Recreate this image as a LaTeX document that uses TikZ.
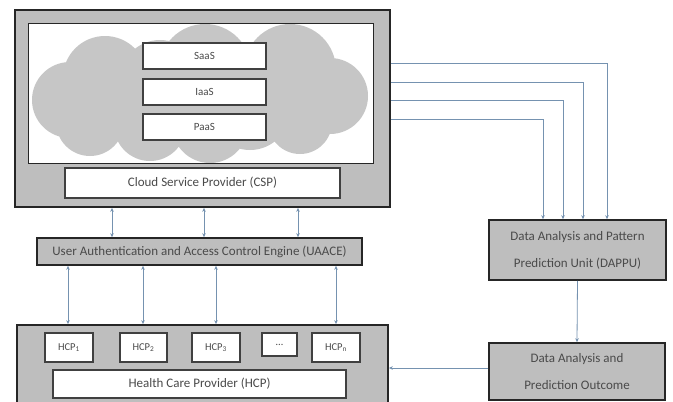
\documentclass[tikz,border=0pt]{standalone}
\usepackage{fontspec}
\setmainfont{Carlito}
\usetikzlibrary{arrows.meta}
\definecolor{boxgray}{HTML}{BEBEBE}
\definecolor{cloudgray}{HTML}{C6C6C6}
\definecolor{txt}{HTML}{4A4A4A}
\definecolor{arrc}{HTML}{7592B0}
\tikzset{
  outerbox/.style={draw=black!85, line width=1.8pt, fill=boxgray, inner sep=0pt},
  whitebox/.style={draw=black!75, line width=1.1pt, fill=white, inner sep=0pt, text=txt, font=\fontsize{13}{15}\selectfont},
  smallbox/.style={whitebox, font=\fontsize{10.5}{12}\selectfont},
  graybox/.style={draw=black!85, line width=1.6pt, fill=boxgray, inner sep=0pt, text=txt, align=center, font=\fontsize{13}{27}\selectfont},
  conn/.style={draw=arrc, line width=0.8pt, -{Stealth[length=4pt,width=3.5pt]}},
  dconn/.style={draw=arrc, line width=0.8pt, {Stealth[length=4pt,width=3.5pt]}-{Stealth[length=4pt,width=3.5pt]}}
}
\begin{document}
\begin{tikzpicture}[x=1pt,y=-1pt]
\useasboundingbox[fill=white] (0,0) rectangle (673,402);
% CSP
\node[outerbox, minimum width=375pt, minimum height=197pt] (csp) at (202.5,108.5) {};
\node[draw=black!85, line width=1pt, fill=white, minimum width=345pt, minimum height=140pt, inner sep=0pt] (inner) at (200.5,93) {};
% cloud
\begin{scope}
\clip (28.5,23.5) rectangle (372.5,162.5);
\fill[cloudgray] (105,78) circle (42) (70,100) circle (38) (90,122) circle (34)
  (150,125) circle (36) (205,70) circle (46) (210,125) circle (38)
  (290,70) circle (46) (330,96) circle (38) (300,122) circle (32) (250,110) circle (40)
  (160,80) circle (40);
\end{scope}
\node[whitebox, minimum width=123pt, minimum height=26pt, font=\fontsize{11}{13}\selectfont] (saas) at (204.5,56) {SaaS};
\node[whitebox, minimum width=123pt, minimum height=26pt, font=\fontsize{11}{13}\selectfont] (iaas) at (204.5,92) {IaaS};
\node[whitebox, minimum width=123pt, minimum height=26pt, font=\fontsize{11}{13}\selectfont] (paas) at (204.5,127) {PaaS};
\node[whitebox, minimum width=275pt, minimum height=30pt] (csplabel) at (202.5,183) {Cloud Service Provider (CSP)};
% UAACE
\node[graybox, minimum width=325pt, minimum height=27pt] (uaace) at (199.5,251.5) {User Authentication and Access Control Engine (UAACE)};
% HCP
\node[outerbox, minimum width=371pt, minimum height=85pt] (hcp) at (202.5,367.5) {};
\node[smallbox, minimum width=48pt, minimum height=29pt] (h1) at (69,347.5) {HCP\textsubscript{1}};
\node[smallbox, minimum width=47pt, minimum height=29pt] (h2) at (143.5,347.5) {HCP\textsubscript{2}};
\node[smallbox, minimum width=48pt, minimum height=29pt] (h3) at (216,347.5) {HCP\textsubscript{3}};
\node[smallbox, minimum width=35pt, minimum height=23pt] (hd) at (279.5,344.5) {\dots};
\node[smallbox, minimum width=48pt, minimum height=29pt] (hn) at (336,347.5) {HCP\textsubscript{n}};
\node[whitebox, minimum width=293pt, minimum height=28pt] (hcplabel) at (199.5,384) {Health Care Provider (HCP)};
% right boxes
\node[graybox, minimum width=177pt, minimum height=60pt] (dappu) at (577.5,250) {Data Analysis and Pattern\\Prediction Unit (DAPPU)};
\node[graybox, minimum width=176pt, minimum height=57pt] (dapo) at (577,371.5) {Data Analysis and\\Prediction Outcome};
% connectors CSP -> DAPPU
\coordinate (r1) at (607,63);
\coordinate (r2) at (583,82);
\coordinate (r3) at (563,100);
\coordinate (r4) at (543,119);
\foreach \r in {r1,r2,r3,r4}{
  \draw[conn] (csp.east |- \r) -| (dappu.north -| \r);
}
% CSP <-> UAACE
\foreach \xx in {112,204,298}{
  \coordinate (u\xx) at (\xx,0);
  \draw[dconn] (csp.south -| u\xx) -- (uaace.north -| u\xx);
}
% UAACE <-> HCP
\foreach \xx in {68,143,216,336}{
  \coordinate (v\xx) at (\xx,0);
  \draw[dconn] (uaace.south -| v\xx) -- (hcp.north -| v\xx);
}
\draw[conn] (dappu.south) -- (dapo.north);
\coordinate (w) at (0,368);
\draw[conn] (dapo.west |- w) -- (hcp.east |- w);
\end{tikzpicture}
\end{document}
